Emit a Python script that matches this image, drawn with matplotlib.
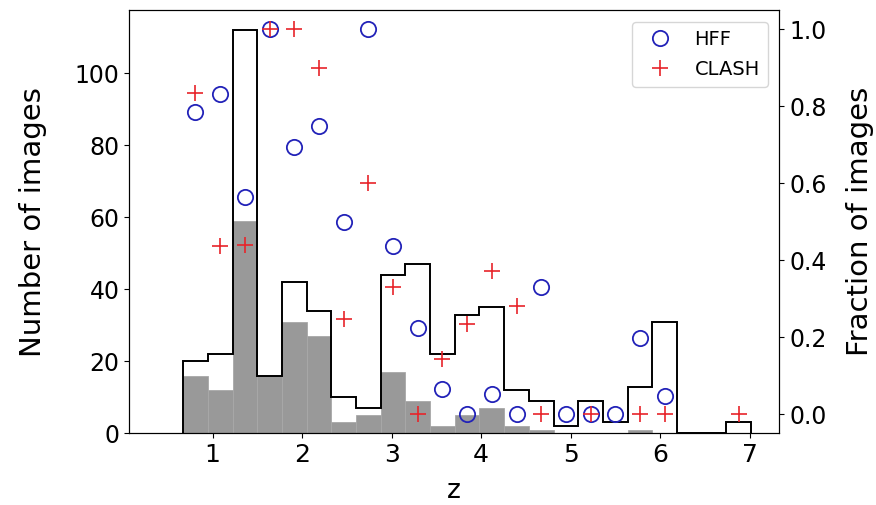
import matplotlib
matplotlib.use('Agg')
import matplotlib.pyplot as plt
import numpy as np

# bin edges in z (23 bins)
z_edges = np.linspace(0.671, 7.016, 24)

# counts per bin: all images (outline) and the grey subset
n_all = [20, 22, 112, 16, 42, 34, 10, 7, 44, 47, 22, 33,
         35, 12, 9, 2, 9, 3, 13, 31, 0, 0, 3]
n_sub = [16, 12, 59, 16, 31, 27, 3, 5, 17, 9, 2, 5,
         7, 2, 1, 0, 0, 0, 1, 0, 0, 0, 0]

# fraction per bin (NaN = no marker)
nan = np.nan
frac_hff = [0.785, 0.833, 0.564, 1.0, 0.694, 0.750, 0.498, 1.0, 0.436, 0.223,
            0.064, 0.0, 0.051, 0.0, 0.329, 0.0, 0.0, 0.0, 0.198, 0.046,
            nan, nan, nan]
frac_clash = [0.835, 0.436, 0.440, 1.0, 1.0, 0.900, 0.246, 0.600, 0.331, 0.0,
              0.142, 0.233, 0.372, 0.281, 0.0, nan, 0.0, nan, 0.0, 0.0,
              nan, nan, 0.0]

z_mid = 0.5 * (z_edges[1:] + z_edges[:-1])

fig = plt.figure(figsize=(8.76, 5.05), dpi=100)
ax = fig.add_axes([0.1476, 0.142, 0.742, 0.838])

ax.hist(z_mid, bins=z_edges, weights=n_sub, color='#999999',
        edgecolor='#a8a8a8', linewidth=0.6)
ax.hist(z_mid, bins=z_edges, weights=n_all, histtype='step',
        color='black', linewidth=1.4)

ax.set_xlim(0.07, 7.33)
ax.set_ylim(0, 112 * 1.05)
ax.set_xticks([1, 2, 3, 4, 5, 6, 7])
ax.set_yticks([0, 20, 40, 60, 80, 100])
ax.tick_params(axis='y', labelsize=17)
ax.tick_params(axis='x', labelsize=18)
ax.set_xlabel('z', fontsize=19, labelpad=8)
ax.set_ylabel('Number of images', fontsize=21, labelpad=20)

ax2 = ax.twinx()
ax2.plot(z_mid, frac_hff, 'o', mfc='none', mec='#2222b8', ms=11,
         mew=1.3, label='HFF')
ax2.plot(z_mid, frac_clash, '+', color='#e8242a', ms=12, mew=1.2,
         label='CLASH')
ax2.set_ylim(-0.05, 1.05)
ax2.set_yticks([0.0, 0.2, 0.4, 0.6, 0.8, 1.0])
ax2.tick_params(labelsize=17)
ax2.set_ylabel('Fraction of images', fontsize=21, labelpad=14)
ax2.legend(loc='upper right', fontsize=14, labelspacing=0.6,
           borderaxespad=0.6)

fig.savefig('out.png', dpi=100)
